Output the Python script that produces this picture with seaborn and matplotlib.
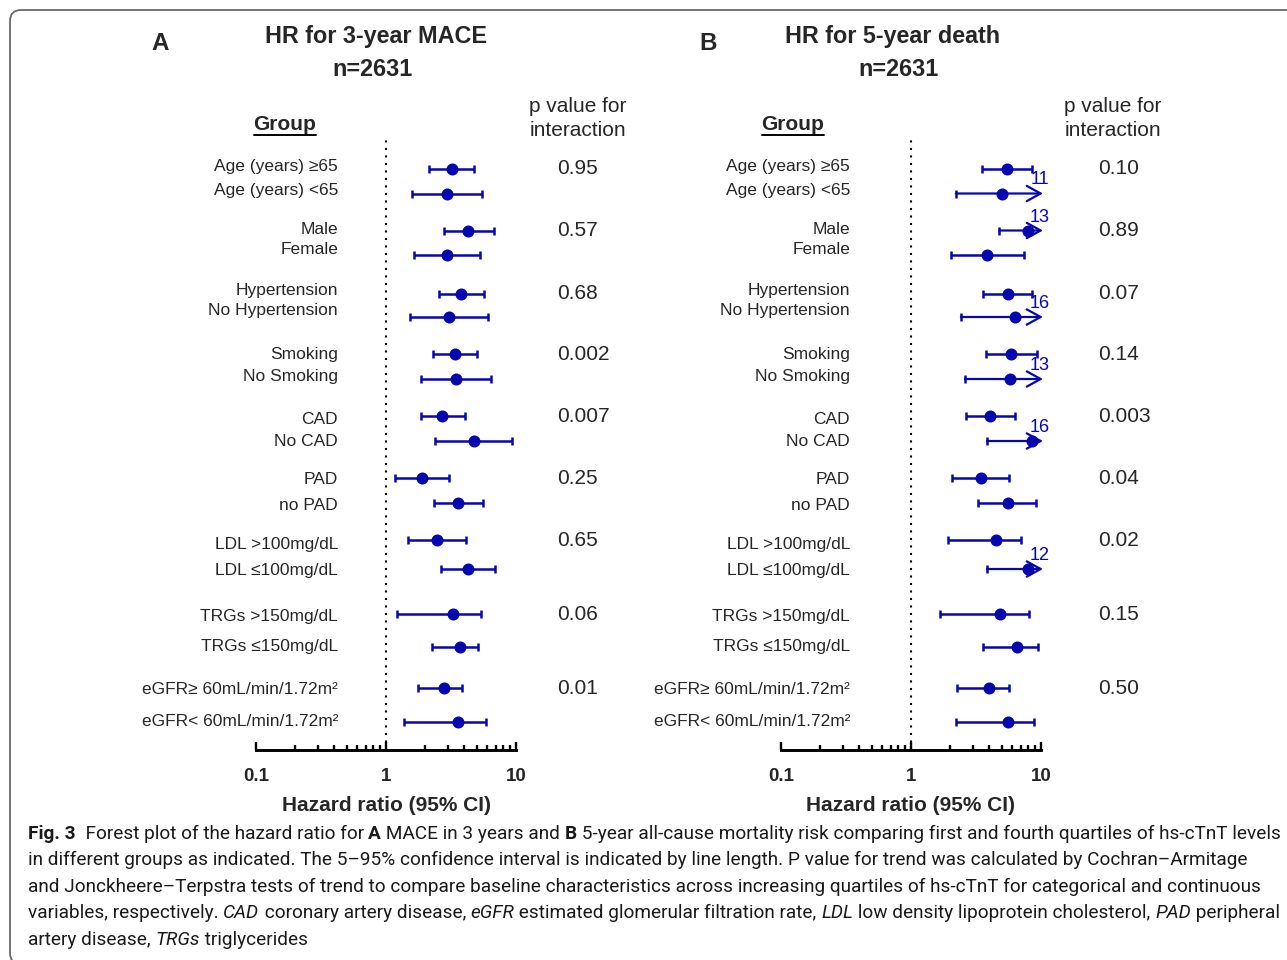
import matplotlib
matplotlib.use("Agg")
import matplotlib.pyplot as plt
import matplotlib.transforms as mtrans
from matplotlib import font_manager
from matplotlib.patches import FancyBboxPatch
from matplotlib.lines import Line2D
import seaborn as sns
import pandas as pd

# subgroup names (same for both panels)
groups = ["Age (years) \u226565", "Age (years) <65", "Male", "Female",
          "Hypertension", "No Hypertension", "Smoking", "No Smoking",
          "CAD", "No CAD", "PAD", "no PAD",
          "LDL >100mg/dL", "LDL \u2264100mg/dL",
          "TRGs >150mg/dL", "TRGs \u2264150mg/dL",
          "eGFR\u2265 60mL/min/1.72m\u00b2", "eGFR< 60mL/min/1.72m\u00b2"]

# panel A: HR for 3-year MACE
hr_a = [3.2, 2.95, 4.3, 2.95, 3.8, 3.05, 3.4, 3.45, 2.7, 4.75,
        1.88, 3.6, 2.47, 4.25, 3.25, 3.7, 2.8, 3.58]
lo_a = [2.15, 1.59, 2.79, 1.65, 2.56, 1.54, 2.29, 1.85, 1.85, 2.37,
        1.18, 2.34, 1.48, 2.66, 1.21, 2.26, 1.75, 1.38]
hi_a = [4.75, 5.45, 6.77, 5.25, 5.64, 6.06, 5.04, 6.46, 4.03, 9.37,
        3.05, 5.61, 4.10, 6.9, 5.35, 5.13, 3.84, 5.84]
p_a = ["0.95", "0.57", "0.68", "0.002", "0.007", "0.25", "0.65", "0.06", "0.01"]

# panel B: HR for 5-year death
hr_b = [5.45, 4.98, 8.0, 3.84, 5.54, 6.31, 5.88, 5.81, 4.07, 8.48,
        3.43, 5.54, 4.48, 7.9, 4.86, 6.58, 3.96, 5.61]
lo_b = [3.50, 2.21, 4.78, 2.02, 3.58, 2.42, 3.75, 2.60, 2.63, 3.84,
        2.06, 3.30, 1.94, 3.84, 1.67, 3.56, 2.25, 2.21]
hi_b = [8.48, 11, 13, 7.36, 8.48, 16, 9.26, 13, 6.31, 16,
        5.67, 9.15, 7.02, 12, 8.04, 9.53, 5.71, 8.88]
p_b = ["0.10", "0.89", "0.07", "0.14", "0.003", "0.04", "0.02", "0.15", "0.50"]

# layout (pixel rows of the original figure)
W, H = 1287, 960
row_y = [169, 193.5, 230.5, 254.5, 293.5, 317, 354, 379, 416, 441,
         478, 503, 540, 569, 614, 647, 688, 722]
label_y = [167, 190, 229, 249, 290, 311, 355, 377, 419, 442,
           480, 505, 544, 570, 616, 646, 689, 721]

BLUE = "#0707b0"

sns.set_theme(style="white")


def has_font(name):
    try:
        font_manager.findfont(name, fallback_to_default=False)
        return True
    except Exception:
        return False


main = next((f for f in ["Liberation Sans", "Arimo", "Roboto"] if has_font(f)), "DejaVu Sans")
FONT = [main, "DejaVu Sans"]
plt.rcParams["font.family"] = FONT
cap_main = next((f for f in ["Liberation Sans Narrow", "Roboto", "Open Sans"] if has_font(f)), "DejaVu Sans")
CAP_FONT = [cap_main, "DejaVu Sans"]

fig = plt.figure(figsize=(W / 100, H / 100), dpi=100)
renderer = fig.canvas.get_renderer()


def fx(px):
    return px / W


def fy(py):
    return 1 - py / H


def text_px(x, y, s, **kw):
    return fig.text(fx(x), fy(y), s, **kw)


def draw_panel(left, letter, letter_x, title, hr, lo, hi, pvals, label_right, p_left,
               title_x, n_x, group_x, phead_x):
    ax = fig.add_axes([fx(left), fy(750), 260 / W, 610 / H])
    df = pd.DataFrame({"group": groups, "hr": hr, "lo": lo, "hi": hi, "y": row_y})
    ax.axvline(1, color="black", lw=1.5, ls=(0, (1, 2.6)), zorder=1)

    for _, r in df.iterrows():
        if r.hi <= 10:
            ax.errorbar(r.hr, r.y, xerr=[[r.hr - r.lo], [r.hi - r.hr]], fmt="none",
                        ecolor=BLUE, elinewidth=1.8, capsize=3, capthick=1.8, zorder=2)
        else:
            ax.plot([r.lo], [r.y], marker="|", ms=6, mew=1.8, color=BLUE, zorder=2)
            ax.annotate("", xy=(10.35, r.y), xytext=(r.lo, r.y), annotation_clip=False,
                        arrowprops=dict(arrowstyle="->,head_length=1.0,head_width=0.55",
                                        color=BLUE, lw=1.6, shrinkA=0, shrinkB=0,
                                        mutation_scale=10))
            ax.text(9.8, r.y - 5, f"{r.hi:g}", color=BLUE, fontsize=13, ha="center",
                    va="bottom", clip_on=False)

    sns.scatterplot(data=df, x="hr", y="y", ax=ax, color=BLUE, s=75, edgecolor=BLUE,
                    linewidth=0, zorder=3, legend=False, clip_on=False)

    ax.set_xscale("log")
    ax.set_xlim(0.1, 10)
    ax.set_ylim(750, 140)
    ax.set_xticks([0.1, 1, 10])
    ax.set_xticklabels(["0.1", "1", "10"], fontweight="bold", fontsize=13.5)
    ax.set_yticks([])
    ax.set_ylabel("")
    ax.set_xlabel("Hazard ratio (95% CI)", fontweight="bold", fontsize=15, labelpad=8)
    for s in ["top", "left", "right"]:
        ax.spines[s].set_visible(False)
    ax.spines["bottom"].set_linewidth(2.1)
    ax.spines["bottom"].set_color("black")
    ax.tick_params(axis="x", which="major", direction="in", length=6, width=1.7,
                   pad=13, color="black", bottom=True)
    ax.tick_params(axis="x", which="minor", direction="in", length=3.5, width=1.7,
                   color="black", bottom=True)
    ax.patch.set_alpha(0)

    # row labels
    tr = mtrans.blended_transform_factory(fig.transFigure, ax.transData)
    for g, ly in zip(groups, label_y):
        ax.text(fx(label_right), ly, g, transform=tr, ha="right", va="center", fontsize=12.5)
    for pv, ly in zip(pvals, row_y[::2]):
        ax.text(fx(p_left), ly, pv, transform=tr, ha="left", va="center", fontsize=15)

    # headers
    text_px(letter_x, 44, letter, fontsize=17.5, fontweight="bold", ha="center", va="center")
    text_px(title_x, 36, title, fontsize=16.8, fontweight="bold", ha="center", va="center")
    text_px(n_x, 70, "n=2631", fontsize=16.8, fontweight="bold", ha="center", va="center")
    gt = text_px(group_x, 124, "Group", fontsize=15, fontweight="bold", ha="center", va="center")
    bb = gt.get_window_extent(renderer)
    fig.add_artist(Line2D([bb.x0, bb.x1], [H - 134.5, H - 134.5], color="black", lw=1.4,
                          transform=None))
    text_px(phead_x, 107, "p value for", fontsize=15, ha="center", va="center")
    text_px(phead_x, 131, "interaction", fontsize=15, ha="center", va="center")
    return ax


draw_panel(256, "A", 160, "HR for 3-year MACE", hr_a, lo_a, hi_a, p_a,
           338, 557, 376, 373, 285, 578)
draw_panel(781, "B", 708, "HR for 5-year death", hr_b, lo_b, hi_b, p_b,
           850, 1098, 893, 898, 793, 1113)

# caption with mixed styles
caption = [
    [("Fig. 3", "bold", "normal"), ("  Forest plot of the hazard ratio for ", "normal", "normal"),
     ("A", "bold", "normal"), (" MACE in 3 years and ", "normal", "normal"), ("B", "bold", "normal"),
     (" 5-year all-cause mortality risk comparing first and fourth quartiles of hs-cTnT levels", "normal", "normal")],
    [("in different groups as indicated. The 5\u201395% confidence interval is indicated by line length. "
      "P value for trend was calculated by Cochran\u2013Armitage", "normal", "normal")],
    [("and Jonckheere\u2013Terpstra tests of trend to compare baseline characteristics across increasing "
      "quartiles of hs-cTnT for categorical and continuous", "normal", "normal")],
    [("variables, respectively. ", "normal", "normal"), ("CAD", "normal", "italic"),
     (" coronary artery disease, ", "normal", "normal"), ("eGFR", "normal", "italic"),
     (" estimated glomerular filtration rate, ", "normal", "normal"), ("LDL", "normal", "italic"),
     (" low density lipoprotein cholesterol, ", "normal", "normal"), ("PAD", "normal", "italic"),
     (" peripheral", "normal", "normal")],
    [("artery disease, ", "normal", "normal"), ("TRGs", "normal", "italic"),
     (" triglycerides", "normal", "normal")],
]
cap_y = [834, 860, 887, 913, 940]


def piece_width(s, size, weight, style):
    t = fig.text(0, 0, s + "|", fontsize=size, fontweight=weight, fontstyle=style, family=CAP_FONT)
    t2 = fig.text(0, 0, "|", fontsize=size, fontweight=weight, fontstyle=style, family=CAP_FONT)
    w = t.get_window_extent(renderer).width - t2.get_window_extent(renderer).width
    t.remove()
    t2.remove()
    return w


base = 12.0
w0 = sum(piece_width(s, base, wt, st) for s, wt, st in caption[0])
cap_size = base * 1249 / w0

for line, cy in zip(caption, cap_y):
    x = 28
    for s, wt, st in line:
        text_px(x, cy, s, fontsize=cap_size, fontweight=wt, fontstyle=st, family=CAP_FONT,
                ha="left", va="center", color="#1a1a1a")
        x += piece_width(s, cap_size, wt, st)

frame = FancyBboxPatch((10, -4), 1320, 954, boxstyle="round,pad=0,rounding_size=11",
                       transform=None, fill=False, edgecolor="#6a6a6a", lw=1.3)
fig.add_artist(frame)

fig.savefig("out.png", dpi=100)
